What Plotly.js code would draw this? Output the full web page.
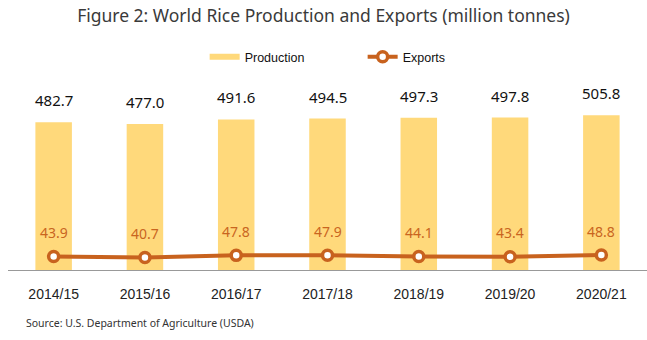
<!DOCTYPE html>
<html>
<head>
<meta charset="utf-8">
<script src="https://cdn.plot.ly/plotly-3.0.1.min.js"></script>
<style>html,body{margin:0;padding:0;background:#fff;}#chart{width:647px;height:340px;}</style>
</head>
<body>
<div id="chart"></div>
<script>
const categories = ["2014/15","2015/16","2016/17","2017/18","2018/19","2019/20","2020/21"];
const production = [482.7, 477.0, 491.6, 494.5, 497.3, 497.8, 505.8];
const exportsVals = [43.9, 40.7, 47.8, 47.9, 44.1, 43.4, 48.8];

const barColor = "#FFD97B";
const lineColor = "#C8621E";
const numFont = "Noto Sans, Open Sans, sans-serif";

const traces = [
  {
    type: "bar", x: categories, y: production, name: "Production",
    marker: {color: barColor}, showlegend: false, hoverinfo: "skip"
  },
  {
    type: "scatter", mode: "lines", x: [null], y: [null], name: "Production",
    line: {color: barColor, width: 6}, showlegend: true
  },
  {
    type: "scatter", mode: "lines+markers", x: categories, y: exportsVals, name: "Exports",
    line: {color: lineColor, width: 4},
    marker: {size: 10, color: "#ffffff", line: {color: lineColor, width: 3.5}}
  }
];

const annotations = [];
categories.forEach((c, i) => {
  annotations.push({x: c, y: production[i], xref: "x", yref: "y", text: production[i].toFixed(1),
    showarrow: false, yshift: 22, font: {family: numFont, size: 15, color: "#111"}});
  annotations.push({x: c, y: exportsVals[i], xref: "x", yref: "y", text: exportsVals[i].toFixed(1),
    showarrow: false, yshift: 24, font: {family: numFont, size: 14, color: "#C9651F"}});
});
annotations.push({xref: "paper", yref: "paper", x: 0.025, xanchor: "left", y: -0.314, yanchor: "middle",
  text: "Source: U.S. Department of Agriculture (USDA)", showarrow: false,
  font: {family: numFont, size: 10.5, color: "#333"}});

const layout = {
  width: 647, height: 340,
  margin: {l: 8, r: 0, t: 101, b: 70},
  paper_bgcolor: "#fff", plot_bgcolor: "#fff",
  title: {text: "Figure 2: World Rice Production and Exports (million tonnes)", x: 0.5, xanchor: "center",
    y: 1 - 16/340, yanchor: "middle", font: {family: numFont, size: 17.5, color: "#3a3a3a"}},
  bargap: 0.6,
  xaxis: {type: "category", showline: true, linecolor: "#999", linewidth: 1, ticks: "", showgrid: false,
    tickfont: {family: "Liberation Sans, Arial, sans-serif", size: 14, color: "#222"}, ticklabelstandoff: 11,
    fixedrange: true},
  yaxis: {range: [0, 552], visible: false, showgrid: false, zeroline: false, fixedrange: true},
  legend: {orientation: "h", x: 0.555, xanchor: "center", y: 1.26, yanchor: "middle",
    font: {family: "Liberation Sans, Arial, sans-serif", size: 12.5, color: "#111"}, entrywidth: 113, entrywidthmode: "pixels"},
  annotations: annotations,
  showlegend: true
};

Plotly.newPlot("chart", traces, layout, {displayModeBar: false, staticPlot: true});
</script>
</body>
</html>
